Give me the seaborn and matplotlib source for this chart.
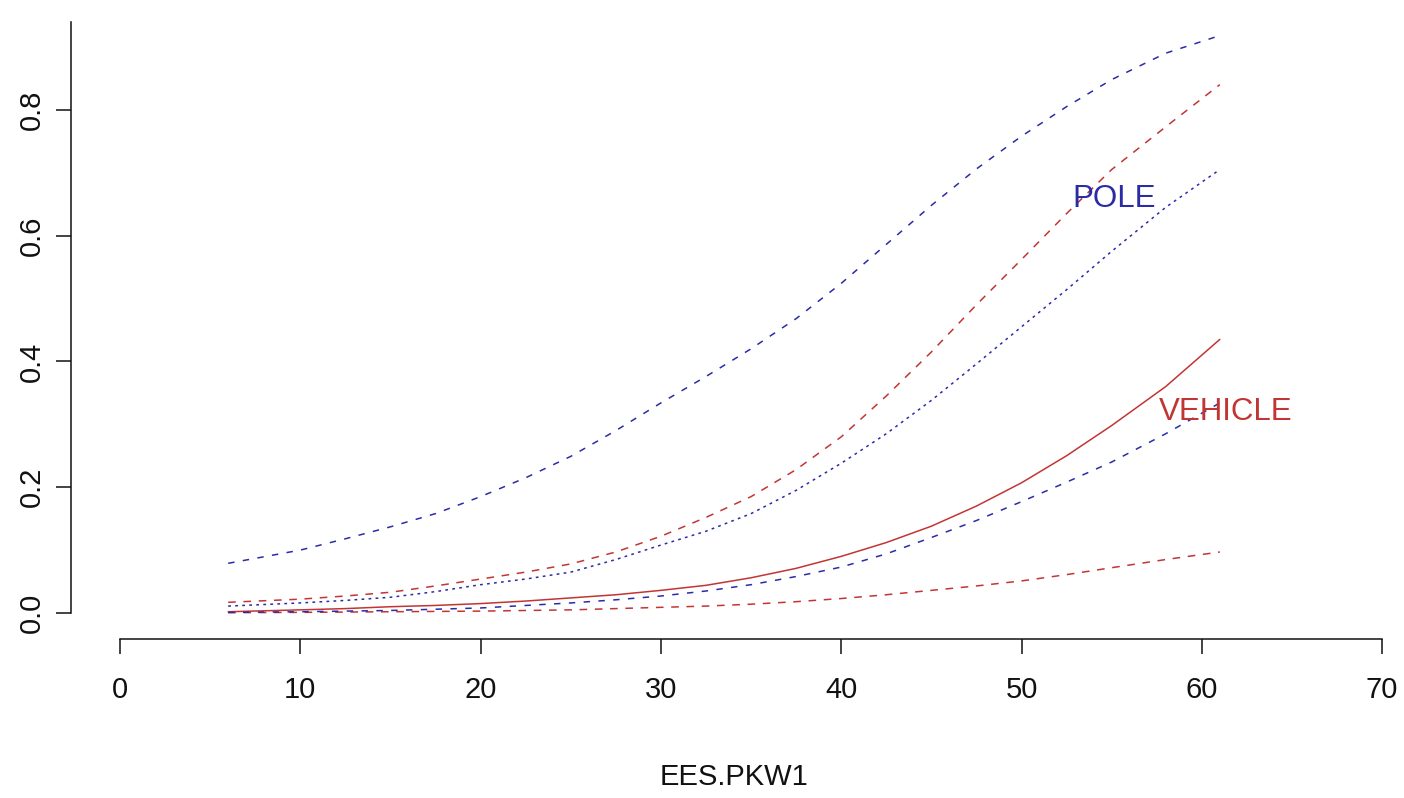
import pandas as pd
import seaborn as sns
import matplotlib.pyplot as plt

# Values
EES = [6, 10, 12.5, 15, 17.5, 20, 22.5, 25, 27.5, 30, 32.5, 35, 37.5, 40,
       42.5, 45, 47.5, 50, 52.5, 55, 58, 61]
POLE_HI = [0.079, 0.100, 0.118, 0.137, 0.158, 0.185, 0.215, 0.249, 0.290, 0.334, 0.376,
           0.420, 0.468, 0.524, 0.586, 0.648, 0.706, 0.758, 0.805, 0.848, 0.890, 0.918]
POLE_FIT = [0.011, 0.016, 0.020, 0.025, 0.034, 0.045, 0.054, 0.065, 0.085, 0.108, 0.130,
            0.158, 0.195, 0.238, 0.285, 0.338, 0.396, 0.455, 0.514, 0.575, 0.645, 0.705]
POLE_LO = [0.001, 0.002, 0.003, 0.004, 0.006, 0.008, 0.012, 0.016, 0.021, 0.027, 0.035,
           0.045, 0.058, 0.073, 0.094, 0.120, 0.147, 0.177, 0.208, 0.240, 0.285, 0.334]
VEH_HI = [0.017, 0.022, 0.027, 0.033, 0.043, 0.054, 0.065, 0.078, 0.097, 0.122, 0.152,
          0.185, 0.228, 0.280, 0.345, 0.415, 0.490, 0.562, 0.635, 0.705, 0.773, 0.840]
VEH_FIT = [0.002, 0.005, 0.007, 0.010, 0.012, 0.015, 0.019, 0.024, 0.029, 0.036, 0.044,
           0.056, 0.071, 0.090, 0.112, 0.138, 0.170, 0.207, 0.250, 0.298, 0.360, 0.435]
VEH_LO = [0.0005, 0.001, 0.0015, 0.002, 0.0025, 0.003, 0.004, 0.005, 0.007, 0.009, 0.011,
          0.014, 0.018, 0.023, 0.029, 0.036, 0.043, 0.051, 0.061, 0.072, 0.085, 0.097]

X_TICKS = [0, 10, 20, 30, 40, 50, 60, 70]
Y_TICKS = [0.0, 0.2, 0.4, 0.6, 0.8]
X_LABEL = "EES.PKW1"

BLUE = "#2B2BA8"
RED = "#C23535"
DASH_B = (0, (4.2, 5.5))
DASH_R = (0, (5, 5))
DOT = (0, (1.8, 2.8))

sns.set_style("white")
plt.rcParams["font.family"] = ["Liberation Sans", "DejaVu Sans"]

fig = plt.figure(figsize=(14.04, 7.98), dpi=100)
ax = fig.add_axes([71 / 1404, 159 / 798, 1327 / 1404, 639 / 798])

series = [
    (VEH_HI, RED, DASH_R),
    (VEH_LO, RED, DASH_R),
    (VEH_FIT, RED, "-"),
    (POLE_HI, BLUE, DASH_B),
    (POLE_LO, BLUE, DASH_B),
    (POLE_FIT, BLUE, DOT),
]
for vals, col, ls in series:
    df = pd.DataFrame({"ees": EES, "p": vals})
    sns.lineplot(data=df, x="ees", y="p", color=col, linestyle=ls, linewidth=1.1, ax=ax)

ax.text(55.13, 0.658, "POLE", color=BLUE, fontsize=22.5, ha="center", va="center")
ax.text(61.34, 0.319, "VEHICLE", color=RED, fontsize=22.5, ha="center", va="center")

ax.set_xlim(-49 / 18.03, 1278 / 18.03)
ax.set_ylim(-26 / 629, 613 / 629)
ax.set_xticks(X_TICKS)
ax.set_yticks(Y_TICKS)
ax.set_yticklabels([f"{v:.1f}" for v in Y_TICKS], rotation=90, va="center")
ax.set_xlabel(X_LABEL, fontsize=21, labelpad=42, color="#111111")
ax.set_ylabel("")

for s in ["top", "right"]:
    ax.spines[s].set_visible(False)
ax.spines["left"].set_bounds(0, 0.94)
ax.spines["bottom"].set_bounds(0, 70)
for s in ["left", "bottom"]:
    ax.spines[s].set_linewidth(1.1)
    ax.spines[s].set_color("#111111")

ax.tick_params(axis="both", direction="out", length=10.8, width=1.1,
               labelsize=21, colors="#111111", left=True, bottom=True)
ax.tick_params(axis="x", pad=16)
ax.tick_params(axis="y", pad=7)

fig.savefig("out.png", dpi=100)
